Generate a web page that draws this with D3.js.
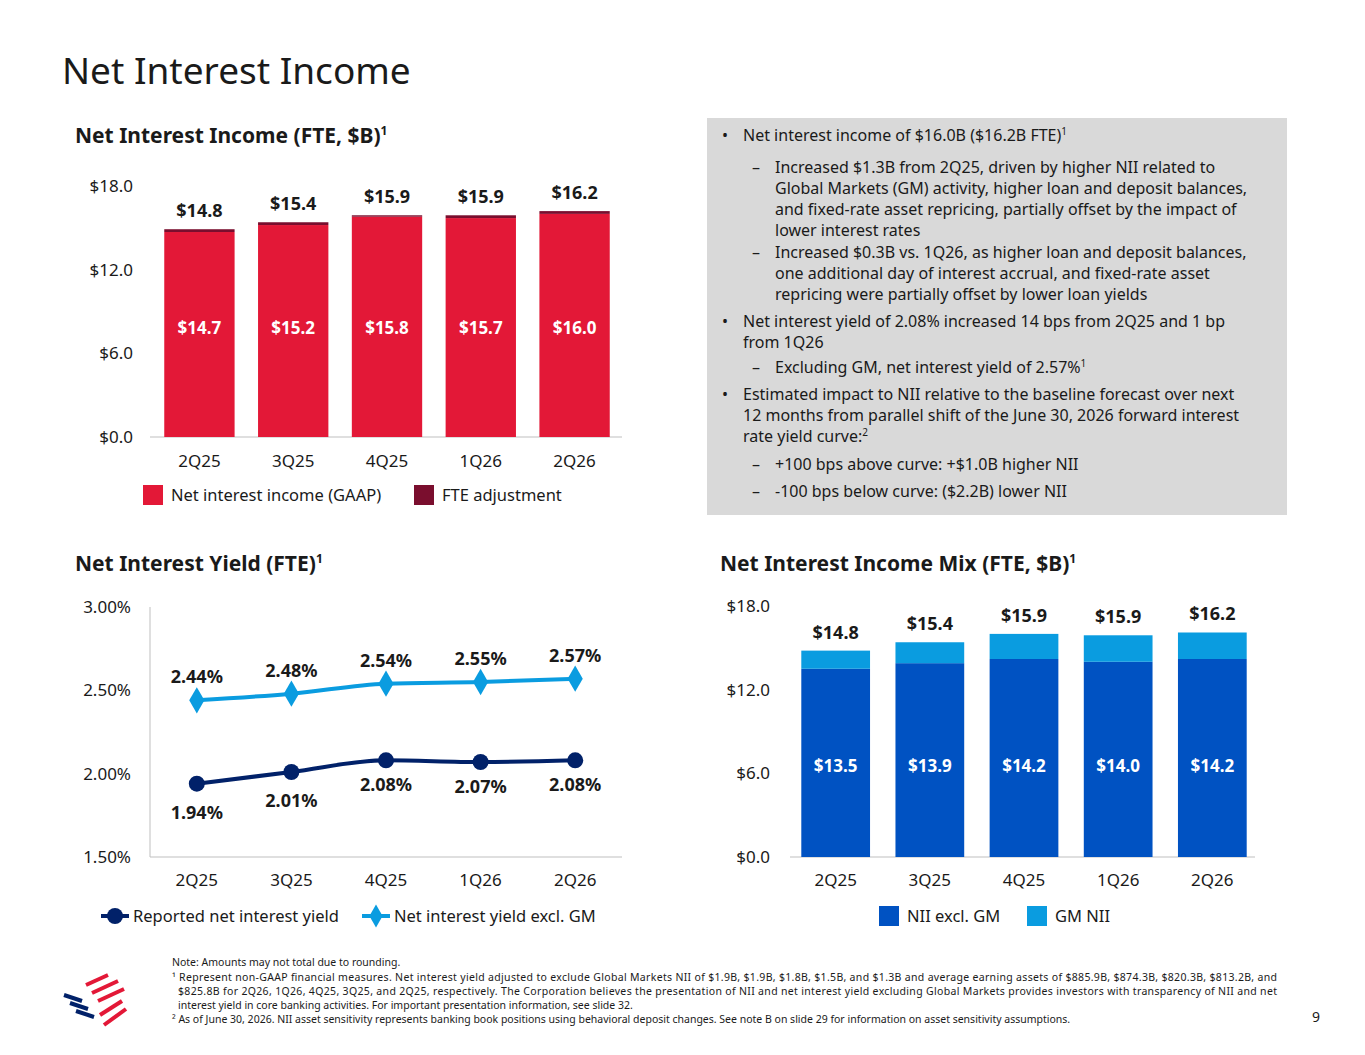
<!DOCTYPE html>
<html><head><meta charset="utf-8">
<script src="https://cdn.jsdelivr.net/npm/d3@7"></script>
<style>body{margin:0;background:#fff;font-family:"Noto Sans",sans-serif;}</style>
</head><body>
<svg id="slide" width="1365" height="1055"></svg>
<script>
// data
var quarters = ["2Q25","3Q25","4Q25","1Q26","2Q26"];
var niiGaap = [14.7,15.2,15.8,15.7,16.0];
var fteAdj = [0.2,0.2,0.1,0.2,0.2];
var niiTotal = ["$14.8","$15.4","$15.9","$15.9","$16.2"];
var reportedYield = [1.94,2.01,2.08,2.07,2.08];
var yieldExGM = [2.44,2.48,2.54,2.55,2.57];
var niiExGM = [13.5,13.9,14.2,14.0,14.2];
var gmNii = [1.3,1.5,1.8,1.9,1.9];
var mixTotal = ["$14.8","$15.4","$15.9","$15.9","$16.2"];
var dollarTicks = [0,6,12,18];
var yieldTicks = [1.5,2.0,2.5,3.0];

var RED="#e31837", DKRED="#7a0e2e", NAVY="#012169", LBLUE="#0a9ce0", BLUE="#0052c2", TXT="#1a1a1a";
var svg = d3.select("#slide");

svg.append("text").attr("x",62).attr("y",84).text("Net Interest Income")
  .style("font-size","37px").style("fill",TXT);

function title(x,y,t){
  var tx = svg.append("text").attr("x",x).attr("y",y).style("font-size","21px").style("font-weight","bold").style("fill",TXT);
  tx.append("tspan").text(t);
  tx.append("tspan").text("1").attr("dy",-8).style("font-size","12px");
}
title(75,143,"Net Interest Income (FTE, $B)");
title(75,571,"Net Interest Yield (FTE)");
title(720,571,"Net Interest Income Mix (FTE, $B)");

function yAxis(g,y,ticks,fmt,xr){
  ticks.forEach(function(t){
    g.append("text").attr("x",xr).attr("y",y(t)+6).attr("text-anchor","end")
      .text(fmt(t)).style("font-size","17px").style("fill",TXT);
  });
}
function xLabels(g,x,yy){
  quarters.forEach(function(q){
    g.append("text").attr("x",x(q)+x.bandwidth()/2).attr("y",yy).attr("text-anchor","middle")
      .text(q).style("font-size","17px").style("fill",TXT);
  });
}
function legend(items,y){
  items.forEach(function(it){
    if(it.type=="sq"){
      svg.append("rect").attr("x",it.x).attr("y",y-10).attr("width",20).attr("height",20).attr("fill",it.c);
      svg.append("text").attr("x",it.x+28).attr("y",y+6).text(it.t).style("font-size","16.5px").style("fill",TXT);
    } else {
      svg.append("line").attr("x1",it.x).attr("x2",it.x+28).attr("y1",y).attr("y2",y).attr("stroke",it.c).attr("stroke-width",4);
      if(it.type=="dot") svg.append("circle").attr("cx",it.x+14).attr("cy",y).attr("r",8).attr("fill",it.c);
      else svg.append("path").attr("d",d3.symbol().type(d3.symbolDiamond).size(150)()).attr("transform","translate("+(it.x+14)+","+y+")").attr("fill",it.c);
      svg.append("text").attr("x",it.x+32).attr("y",y+6).text(it.t).style("font-size","16.5px").style("fill",TXT);
    }
  });
}
var money = function(d){return "$"+d.toFixed(1);};

// chart 1
(function(){
  var x = d3.scaleBand().domain(quarters).range([153,621]).paddingInner(0.25).paddingOuter(0.12);
  var y = d3.scaleLinear().domain([0,18]).range([437,186]);
  var g = svg.append("g");
  yAxis(g,y,dollarTicks,money,133);
  g.append("line").attr("x1",150).attr("x2",622).attr("y1",437).attr("y2",437).attr("stroke","#bfbfbf");
  g.selectAll(".b").data(quarters).enter().append("rect")
    .attr("x",function(d){return x(d);}).attr("width",x.bandwidth())
    .attr("y",function(d,i){return y(niiGaap[i]);}).attr("height",function(d,i){return 437-y(niiGaap[i]);}).attr("fill",RED);
  g.selectAll(".f").data(quarters).enter().append("rect")
    .attr("x",function(d){return x(d);}).attr("width",x.bandwidth())
    .attr("y",function(d,i){return y(niiGaap[i]+fteAdj[i]);}).attr("height",function(d,i){return y(niiGaap[i])-y(niiGaap[i]+fteAdj[i]);}).attr("fill",DKRED);
  quarters.forEach(function(q,i){
    var cx=x(q)+x.bandwidth()/2;
    g.append("text").attr("x",cx).attr("y",334).attr("text-anchor","middle").text(money(niiGaap[i]))
      .style("font-size","17px").style("font-weight","bold").style("fill","#fff");
    g.append("text").attr("x",cx).attr("y",y(niiGaap[i]+fteAdj[i])-12).attr("text-anchor","middle").text(niiTotal[i])
      .style("font-size","18px").style("font-weight","bold").style("fill",TXT);
  });
  xLabels(g,x,467);
  legend([{type:"sq",x:143,c:RED,t:"Net interest income (GAAP)"},{type:"sq",x:414,c:DKRED,t:"FTE adjustment"}],495);
})();

// chart 2
(function(){
  var x = d3.scaleBand().domain(quarters).range([150,622]).paddingInner(0.25).paddingOuter(0.12);
  var y = d3.scaleLinear().domain([1.5,3.0]).range([857,607]);
  var g = svg.append("g");
  yAxis(g,y,yieldTicks,function(d){return d.toFixed(2)+"%";},131);
  g.append("path").attr("d","M150,607V857H622").attr("fill","none").attr("stroke","#bfbfbf");
  var cx=function(i){return x(quarters[i])+x.bandwidth()/2;};
  var line=d3.line().x(function(d,i){return cx(i);}).y(function(d){return y(d);}).curve(d3.curveMonotoneX);
  g.append("path").attr("d",line(yieldExGM)).attr("fill","none").attr("stroke",LBLUE).attr("stroke-width",4);
  g.append("path").attr("d",line(reportedYield)).attr("fill","none").attr("stroke",NAVY).attr("stroke-width",4);
  yieldExGM.forEach(function(v,i){
    g.append("path").attr("d",d3.symbol().type(d3.symbolDiamond).size(200)()).attr("transform","translate("+cx(i)+","+y(v)+")").attr("fill",LBLUE);
    g.append("text").attr("x",cx(i)).attr("y",y(v)-17).attr("text-anchor","middle").text(v.toFixed(2)+"%")
      .style("font-size","18px").style("font-weight","bold").style("fill",TXT);
  });
  reportedYield.forEach(function(v,i){
    g.append("circle").attr("cx",cx(i)).attr("cy",y(v)).attr("r",8).attr("fill",NAVY);
    g.append("text").attr("x",cx(i)).attr("y",y(v)+(i<2?35:31)).attr("text-anchor","middle").text(v.toFixed(2)+"%")
      .style("font-size","18px").style("font-weight","bold").style("fill",TXT);
  });
  xLabels(g,x,886);
  legend([{type:"dot",x:101,c:NAVY,t:"Reported net interest yield"},{type:"dia",x:362,c:LBLUE,t:"Net interest yield excl. GM"}],916);
})();

// chart 3
(function(){
  var x = d3.scaleBand().domain(quarters).range([790,1258]).paddingInner(0.27).paddingOuter(0.12);
  var y = d3.scaleLinear().domain([0,18]).range([857,606]);
  var g = svg.append("g");
  yAxis(g,y,dollarTicks,money,770);
  g.append("line").attr("x1",790).attr("x2",1255).attr("y1",857).attr("y2",857).attr("stroke","#bfbfbf");
  g.selectAll(".b").data(quarters).enter().append("rect")
    .attr("x",function(d){return x(d);}).attr("width",x.bandwidth())
    .attr("y",function(d,i){return y(niiExGM[i]);}).attr("height",function(d,i){return 857-y(niiExGM[i]);}).attr("fill",BLUE);
  g.selectAll(".g").data(quarters).enter().append("rect")
    .attr("x",function(d){return x(d);}).attr("width",x.bandwidth())
    .attr("y",function(d,i){return y(niiExGM[i]+gmNii[i]);}).attr("height",function(d,i){return y(niiExGM[i])-y(niiExGM[i]+gmNii[i]);}).attr("fill",LBLUE);
  quarters.forEach(function(q,i){
    var cx=x(q)+x.bandwidth()/2;
    g.append("text").attr("x",cx).attr("y",772).attr("text-anchor","middle").text(money(niiExGM[i]))
      .style("font-size","17px").style("font-weight","bold").style("fill","#fff");
    g.append("text").attr("x",cx).attr("y",y(niiExGM[i]+gmNii[i])-12).attr("text-anchor","middle").text(mixTotal[i])
      .style("font-size","18px").style("font-weight","bold").style("fill",TXT);
  });
  xLabels(g,x,886);
  legend([{type:"sq",x:879,c:BLUE,t:"NII excl. GM"},{type:"sq",x:1027,c:LBLUE,t:"GM NII"}],916);
})();

// text box
svg.append("rect").attr("x",707).attr("y",118).attr("width",580).attr("height",397).attr("fill","#d9d9d9");
var lines = [
  [0,141,"Net interest income of $16.0B ($16.2B FTE)","1"],
  [1,173,"Increased $1.3B from 2Q25, driven by higher NII related to"],
  [2,194,"Global Markets (GM) activity, higher loan and deposit balances,"],
  [2,215,"and fixed-rate asset repricing, partially offset by the impact of"],
  [2,236,"lower interest rates"],
  [1,258,"Increased $0.3B vs. 1Q26, as higher loan and deposit balances,"],
  [2,279,"one additional day of interest accrual, and fixed-rate asset"],
  [2,300,"repricing were partially offset by lower loan yields"],
  [0,327,"Net interest yield of 2.08% increased 14 bps from 2Q25 and 1 bp"],
  [3,348,"from 1Q26"],
  [1,373,"Excluding GM, net interest yield of 2.57%","1"],
  [0,400,"Estimated impact to NII relative to the baseline forecast over next"],
  [3,421,"12 months from parallel shift of the June 30, 2026 forward interest"],
  [3,442,"rate yield curve:","2"],
  [1,470,"+100 bps above curve: +$1.0B higher NII"],
  [1,497,"-100 bps below curve: ($2.2B) lower NII"]
];
lines.forEach(function(l){
  var xs = {0:743,1:775,2:775,3:743}[l[0]];
  if(l[0]==0) svg.append("text").attr("x",722).attr("y",l[1]).text("•").style("font-size","16px").style("fill",TXT);
  if(l[0]==1) svg.append("text").attr("x",752).attr("y",l[1]).text("–").style("font-size","16px").style("fill",TXT);
  var t = svg.append("text").attr("x",xs).attr("y",l[1]).style("font-size","16px").style("fill",TXT);
  t.append("tspan").text(l[2]);
  if(l[3]) t.append("tspan").text(l[3]).attr("dy",-6).style("font-size","10px");
});

// footnotes
var notes = [
  [172,966,"Note: Amounts may not total due to rounding.",0],
  [172,981,"¹ Represent non-GAAP financial measures. Net interest yield adjusted to exclude Global Markets NII of $1.9B, $1.9B, $1.8B, $1.5B, and $1.3B and average earning assets of $885.9B, $874.3B, $820.3B, $813.2B, and",1105],
  [178,995,"$825.8B for 2Q26, 1Q26, 4Q25, 3Q25, and 2Q25, respectively. The Corporation believes the presentation of NII and net interest yield excluding Global Markets provides investors with transparency of NII and net",1099],
  [178,1009,"interest yield in core banking activities. For important presentation information, see slide 32.",0],
  [172,1023,"² As of June 30, 2026. NII asset sensitivity represents banking book positions using behavioral deposit changes. See note B on slide 29 for information on asset sensitivity assumptions.",0]
];
notes.forEach(function(n){
  svg.append("text").attr("x",n[0]).attr("y",n[1]).text(n[2]).style("font-size","10.5px").style("fill",TXT)
    .attr("textLength", n[3] ? n[3] : null);
});
svg.append("text").attr("x",1320).attr("y",1022).attr("text-anchor","end").text("9").style("font-size","14px").style("fill",TXT);

// logo stripes
var logo = svg.append("g").attr("transform","translate(92,1003)");
[[-28,-8,-10,-2,NAVY],[-22,0,-4,6,NAVY],[-16,8,2,14,NAVY],[-6,-18,16,-28,RED],[0,-10,26,-22,RED],[6,-2,32,-14,RED],[8,12,30,-2,RED],[12,22,34,6,RED]]
  .forEach(function(s){ logo.append("line").attr("x1",s[0]).attr("y1",s[1]).attr("x2",s[2]).attr("y2",s[3]).attr("stroke",s[4]).attr("stroke-width",4); });
</script>
</body></html>
